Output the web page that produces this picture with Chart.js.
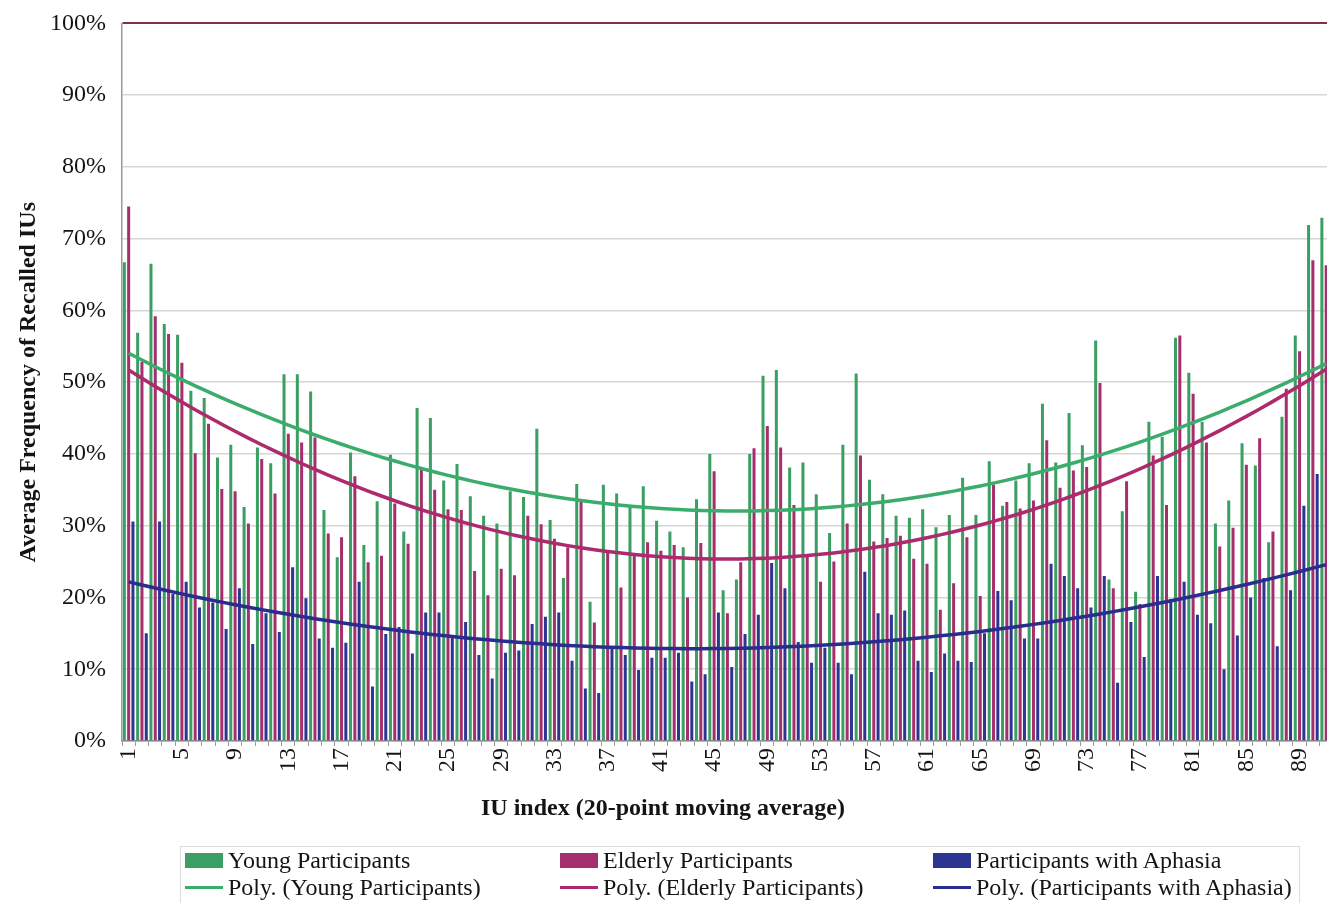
<!DOCTYPE html>
<html>
<head>
<meta charset="utf-8">
<script src="https://cdn.jsdelivr.net/npm/chart.js@4.4.1/dist/chart.umd.min.js"></script>
<style>
  html, body { margin: 0; padding: 0; background: #ffffff; overflow: hidden; }
  #wrap { position: relative; width: 1327px; height: 903px; overflow: hidden; background: #ffffff; }
  #c { position: absolute; left: 0; top: -7px; }
  .txt { position: absolute; font-family: 'Liberation Serif', 'Times New Roman', serif; color: #141414; white-space: nowrap; line-height: 24px; }
  #xtitle { left: 663px; top: 795px; transform: translateX(-50%); font-size: 24px; font-weight: bold; }
  #legend { position: absolute; left: 180px; top: 846px; width: 1120px; height: 80px; border: 1px solid #dcdcdc; box-sizing: border-box; }
  .lg { font-size: 24px; }
  .sw { position: absolute; }
</style>
</head>
<body>
<div id="wrap">
  <canvas id="c" width="1357" height="910" style="width:1357px;height:910px"></canvas>
  <div id="xtitle" class="txt">IU index (20-point moving average)</div>
  <div id="legend"></div>
  <div id="legendItems"></div>
</div>
<script>
// Category axis: IU index positions
const categories = ['1','2','3','4','5','6','7','8','9','10','11','12','13','14','15','16','17','18','19','20',
  '21','22','23','24','25','26','27','28','29','30','31','32','33','34','35','36','37','38','39','40',
  '41','42','43','44','45','46','47','48','49','50','51','52','53','54','55','56','57','58','59','60',
  '61','62','63','64','65','66','67','68','69','70','71','72','73','74','75','76','77','78','79','80',
  '81','82','83','84','85','86','87','88','89','90','91'];

// Labels printed under the axis
const tickLabels = ['1','5','9','13','17','21','25','29','33','37','41','45','49','53','57','61','65','69','73','77','81','85','89'];

// Average frequency of recalled IUs (%)
const young = [66.7,56.9,66.5,58.1,56.6,48.8,47.8,39.5,41.3,32.6,
  40.9,38.7,51.1,51.1,48.7,32.2,25.6,40.2,27.3,33.4,
  39.9,29.2,46.4,45.0,36.3,38.6,34.1,31.4,30.3,34.8,
  34.0,43.5,30.8,22.7,35.8,19.4,35.7,34.5,32.7,35.5,
  30.7,29.2,27.0,33.7,40.0,21.0,22.5,40.0,50.9,51.7,
  38.1,38.8,34.4,29.0,41.3,51.2,36.4,34.4,31.4,31.1,
  32.3,29.8,31.5,36.7,31.5,39.0,32.8,36.3,38.7,47.0,
  38.8,45.7,41.2,55.8,22.5,32.0,20.8,44.5,42.4,56.2,
  51.3,44.5,30.3,33.5,41.5,38.4,27.7,45.2,56.5,71.9,72.9];

const elderly = [74.5,52.8,59.2,56.7,52.7,40.1,44.2,35.1,34.8,30.3,
  39.3,34.5,42.8,41.6,42.3,28.9,28.4,36.9,24.9,25.8,
  33.1,27.5,37.8,35.0,32.3,32.2,23.7,20.3,24.0,23.1,
  31.4,30.2,28.2,27.0,33.3,16.5,26.2,21.4,25.9,27.7,
  26.5,27.3,20.0,27.6,37.6,17.8,24.9,40.8,43.9,40.9,
  32.9,25.7,22.2,25.0,30.3,39.8,27.8,28.3,28.6,25.4,
  24.7,18.3,22.0,28.4,20.2,35.7,33.3,32.4,33.5,41.9,
  35.3,37.7,38.2,49.9,21.3,36.2,19.1,39.8,32.9,56.5,
  48.4,41.6,27.1,29.7,38.5,42.2,29.2,49.1,54.3,67.0,66.3];

const aphasia = [30.6,15.0,30.6,20.5,22.2,18.6,19.3,15.6,21.3,13.5,
  17.8,15.2,24.2,19.9,14.3,13.0,13.7,22.2,7.6,14.9,
  15.9,12.2,17.9,17.9,14.6,16.6,12.0,8.7,12.3,12.6,
  16.3,17.3,17.9,11.2,7.3,6.7,13.0,12.0,9.9,11.6,
  11.6,12.3,8.3,9.3,17.9,10.3,14.9,17.6,24.8,21.3,
  13.8,10.9,13.0,10.9,9.3,23.6,17.8,17.6,18.2,11.2,
  9.6,12.2,11.2,11.0,15.0,20.9,19.6,14.3,14.3,24.7,
  23.0,21.3,18.6,23.0,8.1,16.6,11.7,23.0,19.8,22.2,
  17.6,16.4,10.0,14.7,20.0,22.7,13.2,21.0,32.8,37.2,null];

// Second-order polynomial least-squares trendline over x = 1..n
function polyTrend(values) {
  let s0 = 0, s1 = 0, s2 = 0, s3 = 0, s4 = 0, t0 = 0, t1 = 0, t2 = 0;
  values.forEach((y, i) => {
    if (y === null) return;
    const x = i + 1, x2 = x * x;
    s0 += 1; s1 += x; s2 += x2; s3 += x2 * x; s4 += x2 * x2;
    t0 += y; t1 += x * y; t2 += x2 * y;
  });
  const M = [[s4, s3, s2, t2], [s3, s2, s1, t1], [s2, s1, s0, t0]];
  for (let c = 0; c < 3; c++) {
    for (let r = c + 1; r < 3; r++) {
      const f = M[r][c] / M[c][c];
      for (let k = c; k < 4; k++) M[r][k] -= f * M[c][k];
    }
  }
  const coef = [0, 0, 0];
  for (let r = 2; r >= 0; r--) {
    let s = M[r][3];
    for (let k = r + 1; k < 3; k++) s -= M[r][k] * coef[k];
    coef[r] = s / M[r][r];
  }
  return values.map((_, i) => { const x = i + 1; return coef[0] * x * x + coef[1] * x + coef[2]; });
}

const COLORS = {
  young: '#3b9e63', elderly: '#a52f6c', aphasia: '#2c3592',
  youngLine: '#3aad6c', elderlyLine: '#ad2a6d', aphasiaLine: '#2a2d8e'
};

Chart.defaults.font.family = "'Liberation Serif', 'Times New Roman', serif";
Chart.defaults.color = '#141414';

const barStyle = { borderWidth: 0, categoryPercentage: 0.97, barPercentage: 0.7, order: 2 };
const lineStyle = { type: 'line', borderWidth: 3.5, pointRadius: 0, pointHoverRadius: 0, tension: 0, fill: false, order: 0 };

// Canvas sits 7px above the page top, so the axis baseline lands at page y = 741
const CANVAS_H = 910, BASELINE = 748;

new Chart(document.getElementById('c'), {
  type: 'bar',
  data: {
    labels: categories,
    datasets: [
      Object.assign({ label: 'Young Participants', data: young, backgroundColor: COLORS.young }, barStyle),
      Object.assign({ label: 'Elderly Participants', data: elderly, backgroundColor: COLORS.elderly }, barStyle),
      Object.assign({ label: 'Participants with Aphasia', data: aphasia, backgroundColor: COLORS.aphasia }, barStyle),
      Object.assign({ label: 'Poly. (Young Participants)', data: polyTrend(young), borderColor: COLORS.youngLine }, lineStyle),
      Object.assign({ label: 'Poly. (Elderly Participants)', data: polyTrend(elderly), borderColor: COLORS.elderlyLine }, lineStyle),
      Object.assign({ label: 'Poly. (Participants with Aphasia)', data: polyTrend(aphasia), borderColor: COLORS.aphasiaLine }, lineStyle)
    ]
  },
  options: {
    responsive: false,
    animation: false,
    devicePixelRatio: 1,
    layout: { padding: { top: 16, right: 4, left: 0, bottom: 0 } },
    plugins: { legend: { display: false }, tooltip: { enabled: false } },
    scales: {
      x: {
        offset: true,
        grid: { offset: true, drawOnChartArea: false, drawTicks: true, tickLength: 5, color: '#9a9a9a' },
        border: { display: true, color: '#8c8c8c', width: 1.5 },
        ticks: {
          autoSkip: false, minRotation: 90, maxRotation: 90, padding: 2,
          font: { size: 24 }, color: '#141414',
          callback: function (value) {
            const lab = this.getLabelForValue(value);
            return tickLabels.includes(lab) ? lab : '';
          }
        },
        afterFit: (scale) => { scale.height = CANVAS_H - BASELINE; }
      },
      y: {
        min: 0, max: 100,
        ticks: { stepSize: 10, padding: 16, font: { size: 24 }, color: '#141414', callback: (v) => v + '%' },
        grid: {
          drawTicks: false,
          color: (ctx) => (ctx.tick && ctx.tick.value === 100 ? '#7a3640' : '#d6d6d6'),
          lineWidth: (ctx) => (ctx.tick && ctx.tick.value === 100 ? 2 : 1.5)
        },
        border: { display: true, color: '#9a9a9a', width: 1.5 },
        title: {
          display: true, text: 'Average Frequency of Recalled IUs',
          font: { size: 24, weight: 'bold' }, color: '#141414', padding: { top: 14, bottom: 0 }
        },
        afterFit: (scale) => { scale.width = 122; }
      }
    }
  }
});

// Legend laid out in three columns and two rows
const legendRows = [
  [{ kind: 'box', color: COLORS.young, text: 'Young Participants', x: 185 },
   { kind: 'box', color: COLORS.elderly, text: 'Elderly Participants', x: 560 },
   { kind: 'box', color: COLORS.aphasia, text: 'Participants with Aphasia', x: 933 }],
  [{ kind: 'line', color: COLORS.youngLine, text: 'Poly. (Young Participants)', x: 185 },
   { kind: 'line', color: COLORS.elderlyLine, text: 'Poly. (Elderly Participants)', x: 560 },
   { kind: 'line', color: COLORS.aphasiaLine, text: 'Poly. (Participants with Aphasia)', x: 933 }]
];
const rowCenters = [860, 887];
const holder = document.getElementById('legendItems');
legendRows.forEach((row, r) => {
  row.forEach((it) => {
    const sw = document.createElement('div');
    sw.className = 'sw';
    const cy = rowCenters[r];
    if (it.kind === 'box') {
      sw.style.cssText = `left:${it.x}px;top:${cy - 7}px;width:38px;height:15px;background:${it.color};`;
    } else {
      sw.style.cssText = `left:${it.x}px;top:${cy - 1}px;width:38px;height:3px;background:${it.color};`;
    }
    holder.appendChild(sw);
    const t = document.createElement('div');
    t.className = 'txt lg';
    t.style.left = (it.x + 43) + 'px';
    t.style.top = (cy - 12) + 'px';
    t.textContent = it.text;
    holder.appendChild(t);
  });
});
</script>
</body>
</html>
